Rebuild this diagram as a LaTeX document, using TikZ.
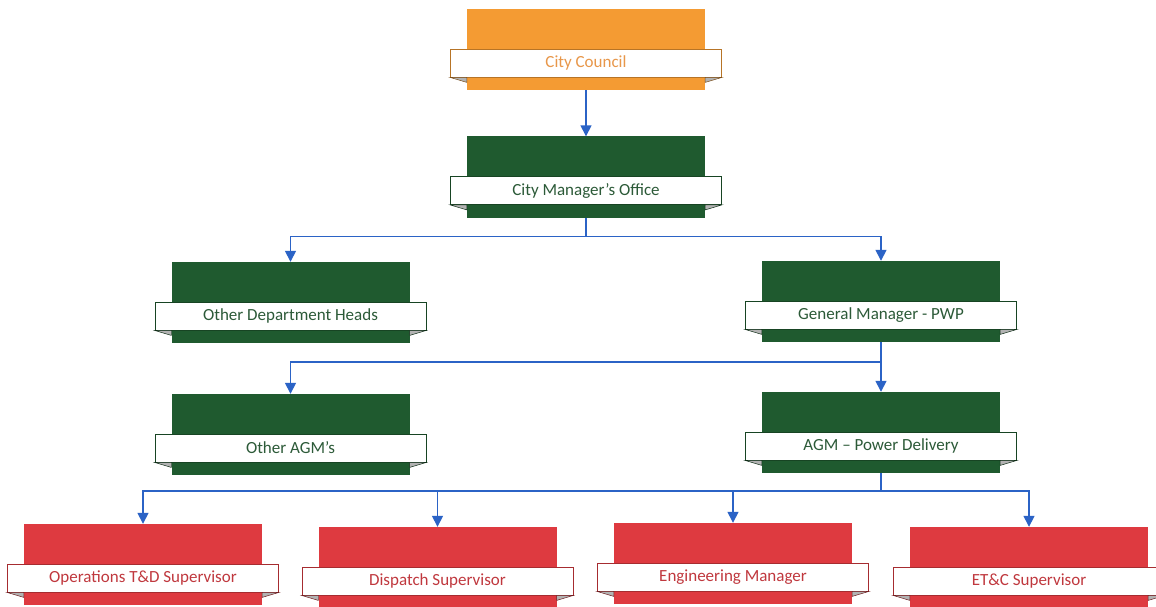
\documentclass[tikz,border=0pt]{standalone}
\usepackage{fontspec}
\setmainfont{Carlito}
\usetikzlibrary{arrows.meta}
\definecolor{corange}{HTML}{F49B33}
\definecolor{cgreen}{HTML}{1F5A2F}
\definecolor{cred}{HTML}{DE3A40}
\definecolor{torange}{HTML}{E8974A}
\definecolor{tgreen}{HTML}{2C5A38}
\definecolor{tred}{HTML}{C0383E}
\definecolor{cblue}{HTML}{2B63C6}
\tikzset{
  unitbox/.style={draw=none, fill=#1, minimum width=238pt, minimum height=81pt, inner sep=0pt},
  banner/.style={draw=#1!75!black, line width=0.8pt, fill=white, minimum width=271pt, minimum height=28pt, inner sep=0pt, font=\fontsize{17}{19}\selectfont},
  conn/.style={draw=cblue, line width=1.5pt, -{Triangle[width=11pt,length=11pt]}},
  trunk/.style={draw=cblue, line width=1.5pt}
}
% \orgunit{name}{x}{y}{box colour}{text colour}{text}
\newcommand\orgunit[6]{%
  \node[unitbox=#4] (#1) at (#2,#3) {};
  \node[banner=#4, text=#5] (#1L) at (#2,#3+13.5) {#6};
  \filldraw[fill=gray!60, draw=#4!50!black, line width=0.5pt] (#1L.south west) -- (#1L.south west -| #1.west) -- ([yshift=-5pt]#1L.south west -| #1.west) -- cycle;
  \filldraw[fill=gray!60, draw=#4!50!black, line width=0.5pt] (#1L.south east) -- (#1L.south east -| #1.east) -- ([yshift=-5pt]#1L.south east -| #1.east) -- cycle;
}
\begin{document}
\begin{tikzpicture}[x=1pt,y=-1pt]
\useasboundingbox (0,0) rectangle (1156,607);
\clip (0,0) rectangle (1156,607);
\fill[white] (0,0) rectangle (1156,607);

\orgunit{cc}{586}{49.5}{corange}{torange}{City Council}
\orgunit{cmo}{586}{177}{cgreen}{tgreen}{City Manager’s Office}
\orgunit{odh}{290.5}{302.5}{cgreen}{tgreen}{Other Department Heads}
\orgunit{gm}{881}{301.5}{cgreen}{tgreen}{General Manager - PWP}
\orgunit{oagm}{290.5}{434.5}{cgreen}{tgreen}{Other AGM’s}
\orgunit{agm}{881}{432.5}{cgreen}{tgreen}{AGM – Power Delivery}
\orgunit{ops}{143}{564.5}{cred}{tred}{Operations T\&D Supervisor}
\orgunit{disp}{437.5}{567.5}{cred}{tred}{Dispatch Supervisor}
\orgunit{eng}{733}{563.5}{cred}{tred}{Engineering Manager}
\orgunit{etc}{1029}{567.5}{cred}{tred}{ET\&C Supervisor}

\draw[conn] (cc.south) -- (cmo.north);
\coordinate (j1) at ([yshift=-19pt]cmo.south);
\draw[trunk] (cmo.south) -- (j1);
\draw[conn] (j1) -| (odh.north);
\draw[conn] (j1) -| (gm.north);
\coordinate (j2) at ([yshift=-20pt]gm.south);
\draw[trunk] (gm.south) -- (j2);
\draw[conn] (j2) -| (oagm.north);
\draw[conn] (j2) -- (agm.north);
\coordinate (j3) at ([yshift=-18pt]agm.south);
\draw[trunk] (agm.south) -- (j3);
\draw[conn] (j3) -| (ops.north);
\draw[conn] (j3) -| (disp.north);
\draw[conn] (j3) -| (eng.north);
\draw[conn] (j3) -| (etc.north);
\end{tikzpicture}
\end{document}
